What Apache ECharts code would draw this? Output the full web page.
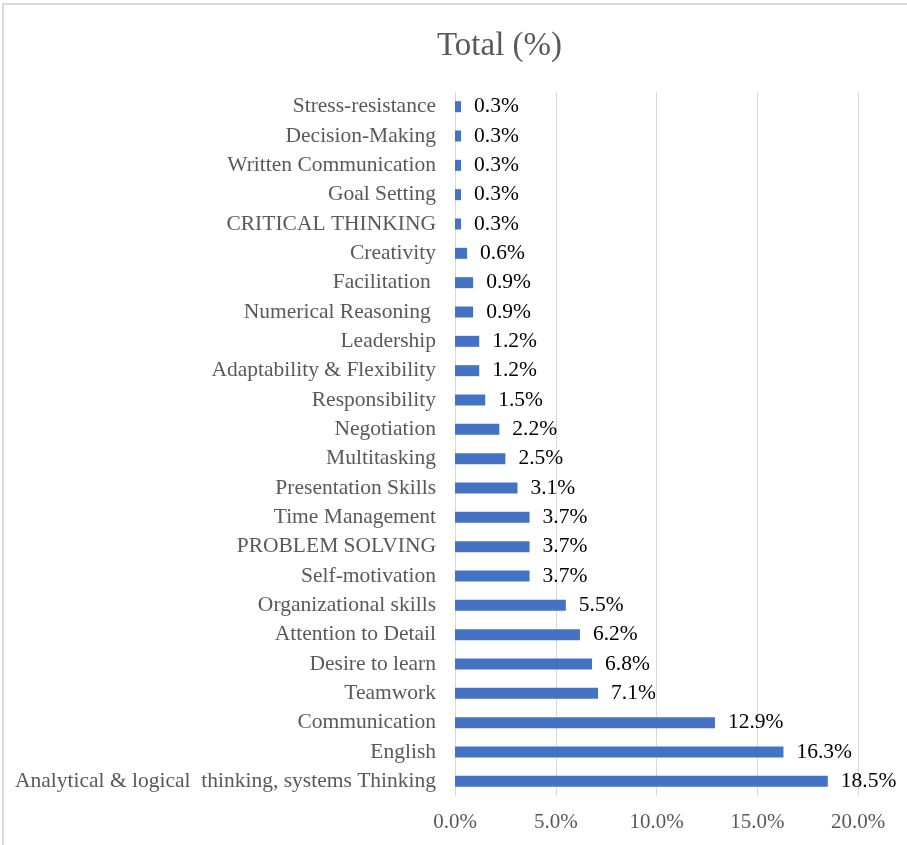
<!DOCTYPE html>
<html>
<head>
<meta charset="utf-8">
<script src="https://cdn.jsdelivr.net/npm/echarts@6/dist/echarts.min.js"></script>
<style>
  html, body { margin: 0; padding: 0; background: #fff; }
  #chart { width: 907px; height: 845px; }
</style>
</head>
<body>
<div id="chart"></div>
<script>
// Skills, listed top to bottom as shown on the chart
const skills = [
  'Stress-resistance',
  'Decision-Making',
  'Written Communication',
  'Goal Setting',
  'CRITICAL THINKING',
  'Creativity',
  'Facilitation ',
  'Numerical Reasoning ',
  'Leadership',
  'Adaptability & Flexibility',
  'Responsibility',
  'Negotiation',
  'Multitasking',
  'Presentation Skills',
  'Time Management',
  'PROBLEM SOLVING',
  'Self-motivation',
  'Organizational skills',
  'Attention to Detail',
  'Desire to learn',
  'Teamwork',
  'Communication',
  'English',
  'Analytical & logical  thinking, systems Thinking'
];

// Share of mentions, in percent
const totalPct = [
  0.3, 0.3, 0.3, 0.3, 0.3, 0.6, 0.9, 0.9, 1.2, 1.2, 1.5, 2.2,
  2.5, 3.1, 3.7, 3.7, 3.7, 5.5, 6.2, 6.8, 7.1, 12.9, 16.3, 18.5
];

// Value axis ticks, in percent
const xTicks = [0, 5, 10, 15, 20];

const FONT = '"Liberation Serif", "Times New Roman", serif';
const GREY = '#595959';

const chart = echarts.init(document.getElementById('chart'), null, { renderer: 'canvas' });

chart.setOption({
  backgroundColor: '#ffffff',
  animation: false,
  title: {
    text: 'Total (%)',
    left: 432,
    top: 25,
    textStyle: { fontFamily: FONT, fontSize: 33, fontWeight: 'normal', color: GREY }
  },
  graphic: [{
    type: 'rect',
    silent: true,
    shape: { x: 3, y: 4, width: 1200, height: 1200 },
    style: { fill: 'none', stroke: '#d9d9d9', lineWidth: 2 }
  }],
  grid: { left: 455, right: 49, top: 92, bottom: 49, containLabel: false },
  xAxis: {
    type: 'value',
    min: xTicks[0],
    max: xTicks[xTicks.length - 1],
    interval: xTicks[1] - xTicks[0],
    axisLine: { show: false },
    axisTick: { show: false },
    splitLine: { show: true, lineStyle: { color: '#d9d9d9', width: 1 } },
    axisLabel: {
      margin: 16,
      fontFamily: FONT, fontSize: 21, color: GREY,
      formatter: v => v.toFixed(1) + '%'
    }
  },
  yAxis: {
    type: 'category',
    data: skills,
    inverse: true,
    axisLine: { show: false },
    axisTick: { show: false },
    axisLabel: {
      margin: 19,
      fontFamily: FONT, fontSize: 21.5, color: GREY
    }
  },
  series: [{
    type: 'bar',
    data: totalPct,
    barWidth: 11,
    itemStyle: { color: '#4472c4' },
    label: {
      show: true,
      position: 'right',
      distance: 13,
      fontFamily: FONT, fontSize: 21.5, color: '#000000',
      formatter: p => p.value.toFixed(1) + '%'
    }
  }]
});
</script>
</body>
</html>
